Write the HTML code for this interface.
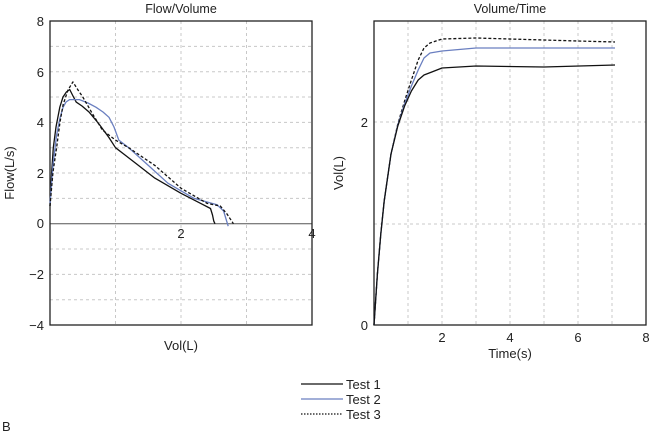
<!DOCTYPE html>
<html><head><meta charset="utf-8"><style>
html,body{margin:0;padding:0;background:#fff;}
svg{display:block;font-family:"Liberation Sans",Arial,sans-serif;}
</style></head><body>
<svg width="650" height="432" viewBox="0 0 650 432" xmlns="http://www.w3.org/2000/svg">
<!-- Left panel -->
<text x="181" y="13" font-size="12.5" text-anchor="middle" fill="#222">Flow/Volume</text>
<g stroke="#c8c8c8" stroke-width="1" stroke-dasharray="3,3">
<line x1="115.5" y1="21" x2="115.5" y2="325"/><line x1="181" y1="21" x2="181" y2="325"/><line x1="246.5" y1="21" x2="246.5" y2="325"/>
<line x1="50" y1="46.4" x2="312" y2="46.4"/><line x1="50" y1="71.7" x2="312" y2="71.7"/><line x1="50" y1="97" x2="312" y2="97"/>
<line x1="50" y1="122.4" x2="312" y2="122.4"/><line x1="50" y1="147.7" x2="312" y2="147.7"/><line x1="50" y1="173" x2="312" y2="173"/>
<line x1="50" y1="198.4" x2="312" y2="198.4"/><line x1="50" y1="249" x2="312" y2="249"/><line x1="50" y1="274.4" x2="312" y2="274.4"/>
<line x1="50" y1="299.7" x2="312" y2="299.7"/>
</g>
<line x1="50" y1="223.7" x2="312" y2="223.7" stroke="#555" stroke-width="1"/>
<rect x="50" y="21" width="262" height="304" fill="none" stroke="#222" stroke-width="1.3"/>
<g font-size="13" fill="#222" text-anchor="end">
<text x="44" y="26">8</text><text x="44" y="77">6</text><text x="44" y="127">4</text><text x="44" y="178">2</text>
<text x="44" y="228">0</text><text x="44" y="279">−2</text><text x="44" y="330">−4</text>
</g>
<text x="181" y="238" font-size="13" text-anchor="middle" fill="#222">2</text>
<text x="312" y="238" font-size="13" text-anchor="middle" fill="#222">4</text>
<text x="14" y="173" font-size="13" text-anchor="middle" fill="#222" transform="rotate(-90 14 173)">Flow(L/s)</text>
<text x="181" y="350" font-size="13" text-anchor="middle" fill="#222">Vol(L)</text>
<g fill="none" stroke-width="1.3" stroke-linejoin="round">
<polyline stroke="#111" points="50,206 51.5,175 53.3,147.7 56,127 59.8,107.2 63,97 66.4,92 69.7,89.5 73,96 76.2,102.1 82,106 89.3,112.3 99,124 109,137.6 115.5,147.7 125,155 135.2,162.9 154.8,178.1 181,193.3 200.7,203.4 210.5,208.5 212.5,215 213.8,221.2 215,223.7"/>
<polyline stroke="#6a7fc0" points="50,203.4 53,165 56.6,135 60,118 63.1,107.2 66,102 69.7,99.6 79.5,99.6 88,103 95.9,107.2 103,112 109,117.3 114,127 118.8,140.1 128.6,147.7 148.3,165.4 167.9,183.2 194.1,198.4 217,204.7 223.6,211 228.2,226.2"/>
<polyline stroke="#111" stroke-dasharray="3,2" points="50,206 53,172 56.6,147.7 60,122 63.1,104.7 68,90 72.9,81.9 78,90 82.8,97 92,113 102.4,130 115.5,140.1 128.6,147.7 154.8,165.4 181,188.2 207.2,203.4 220.3,206 227,214 233.4,223.7"/>
</g>
<!-- Right panel -->
<text x="510" y="13" font-size="12.5" text-anchor="middle" fill="#222">Volume/Time</text>
<g stroke="#c8c8c8" stroke-width="1" stroke-dasharray="3,3">
<line x1="408" y1="21" x2="408" y2="325"/><line x1="442" y1="21" x2="442" y2="325"/><line x1="476" y1="21" x2="476" y2="325"/>
<line x1="510" y1="21" x2="510" y2="325"/><line x1="544" y1="21" x2="544" y2="325"/><line x1="578" y1="21" x2="578" y2="325"/>
<line x1="612" y1="21" x2="612" y2="325"/>
<line x1="374" y1="122" x2="646" y2="122"/><line x1="374" y1="224" x2="646" y2="224"/>
</g>
<rect x="374" y="21" width="272" height="304" fill="none" stroke="#222" stroke-width="1.3"/>
<g font-size="13" fill="#222" text-anchor="end">
<text x="368" y="127">2</text><text x="368" y="330">0</text>
</g>
<g font-size="13" fill="#222" text-anchor="middle">
<text x="442" y="342">2</text><text x="510" y="342">4</text><text x="578" y="342">6</text><text x="646" y="342">8</text>
</g>
<text x="510" y="358" font-size="13" text-anchor="middle" fill="#222">Time(s)</text>
<text x="343" y="173" font-size="13" text-anchor="middle" fill="#222" transform="rotate(-90 343 173)">Vol(L)</text>
<g fill="none" stroke-width="1.3" stroke-linejoin="round">
<polyline stroke="#111" stroke-dasharray="3,2" points="374,325 377.4,274 380.8,234 384.2,201 391,154 397.8,124 404.6,101 411.4,80 418.2,60 424,48 430,43 442,39 476,38 578,41 615,42"/>
<polyline stroke="#6a7fc0" points="374,325 377.4,274 380.8,234 384.2,201 391,154 397.8,125 404.6,104 411.4,86 418.2,70 424,58 430,53 442,51 476,48 578,48 615,48"/>
<polyline stroke="#111" points="374,325 377.4,274 380.8,234 384.2,201 391,154 397.8,126 404.6,106 411.4,91 418.2,80 424,75 431.8,72 442,68 476,66 544,67 615,65"/>
</g>
<!-- Legend -->
<line x1="301" y1="384" x2="343" y2="384" stroke="#111" stroke-width="1.3"/>
<line x1="301" y1="399" x2="343" y2="399" stroke="#6a7fc0" stroke-width="1.3"/>
<line x1="301" y1="414" x2="343" y2="414" stroke="#111" stroke-width="1.3" stroke-dasharray="1.5,1.5"/>
<g font-size="13" fill="#222">
<text x="346" y="389">Test 1</text><text x="346" y="404">Test 2</text><text x="346" y="419">Test 3</text>
</g>
<text x="2" y="431" font-size="13" fill="#222">B</text>
</svg>
</body></html>
